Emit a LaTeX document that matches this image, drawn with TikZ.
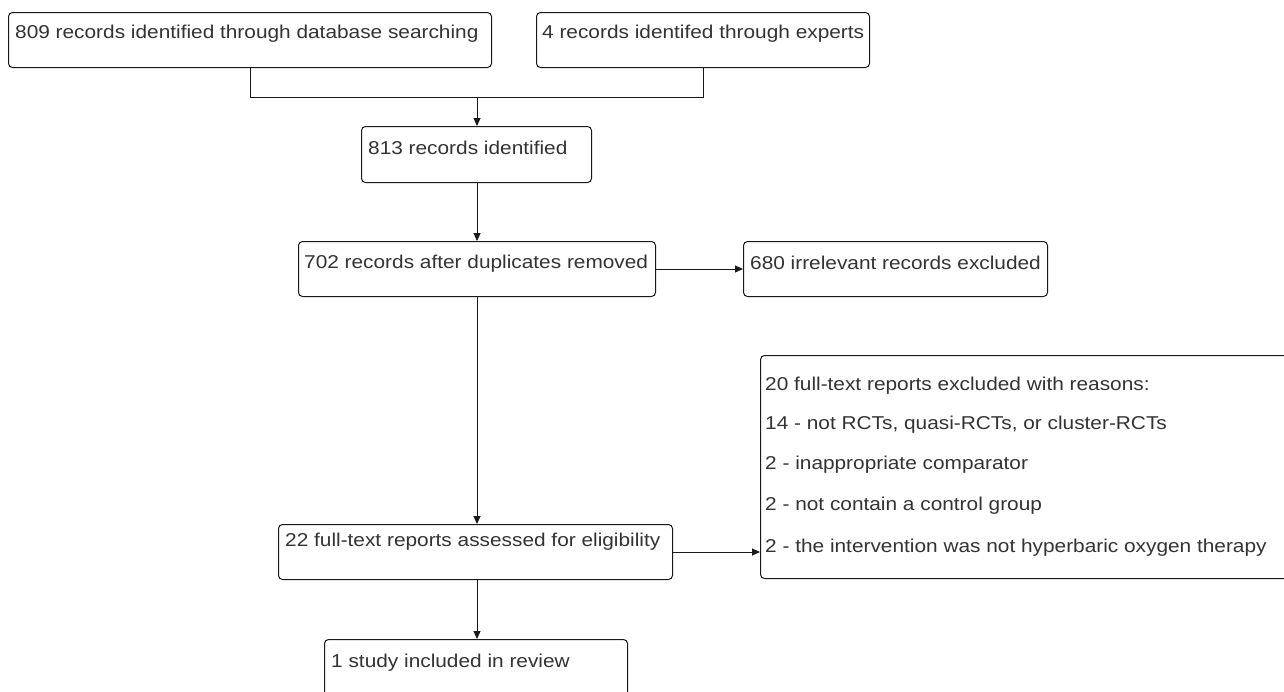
\documentclass[tikz,border=0pt]{standalone}
\usepackage{fontspec}
\setmainfont[FakeStretch=1.12]{Liberation Sans}
\usetikzlibrary{arrows.meta}
\begin{document}
\begin{tikzpicture}[x=1pt,y=-1pt,
  box/.style={draw=black!90, line width=1pt, rounded corners=4pt, rectangle, inner sep=0pt, anchor=north west},
  txt/.style={anchor=base west, inner sep=0pt, font=\fontsize{18.6}{22}\selectfont, text=black!80},
  conn/.style={draw=black!90, line width=1pt},
  arr/.style={conn, -{Triangle[length=8pt,width=7pt]}}]
\useasboundingbox[fill=white] (0,0) rectangle (1284,691);
% boxes
\node[box, minimum width=483pt, minimum height=55pt] (n1) at (8,12) {};
\node[box, minimum width=333pt, minimum height=55pt] (n2) at (536,12) {};
\node[box, minimum width=230pt, minimum height=56pt] (n3) at (361,126) {};
\node[box, minimum width=357pt, minimum height=55pt] (n4) at (298,241) {};
\node[box, minimum width=304pt, minimum height=55pt] (n5) at (743,241) {};
\node[box, minimum width=535pt, minimum height=223pt] (n7) at (760,355) {};
\node[box, minimum width=394pt, minimum height=55pt] (n6) at (278,524) {};
\node[box, minimum width=303pt, minimum height=70pt] (n8) at (324,639) {};
% texts
\node[txt] (t1) at (15,38.5) {809 records identified through database searching};
\node[txt] (t2) at (542,38.5) {4 records identifed through experts};
\node[txt] (t3) at (368,154) {813 records identified};
\node[txt] (t4) at (304,268.5) {702 records after duplicates removed};
\node[txt] (t5) at (750,269) {680 irrelevant records excluded};
\node[txt] (t7a) at (765,390) {20 full-text reports excluded with reasons:};
\node[txt] (t7b) at (765,429) {14 - not RCTs, quasi-RCTs, or cluster-RCTs};
\node[txt] (t7c) at (765,469) {2 - inappropriate comparator};
\node[txt] (t7d) at (765,510) {2 - not contain a control group};
\node[txt] (t7e) at (765,552) {2 - the intervention was not hyperbaric oxygen therapy};
\node[txt] (t6) at (285,546) {22 full-text reports assessed for eligibility};
\node[txt] (t8) at (331,667) {1 study included in review};
% connectors
\coordinate (j) at (477,97);
\draw[conn] (n1.south) |- (j);
\draw[conn] (n2.south) |- (j);
\draw[arr] (j) -- (j |- n3.north);
\draw[arr] (j |- n3.south) -- (j |- n4.north);
\draw[arr] (n4.east) -- (n5.west);
\draw[arr] (j |- n4.south) -- (j |- n6.north);
\draw[arr] (n6.east) -- (n6.east -| n7.west);
\draw[arr] (j |- n6.south) -- (j |- n8.north);
\end{tikzpicture}
\end{document}
